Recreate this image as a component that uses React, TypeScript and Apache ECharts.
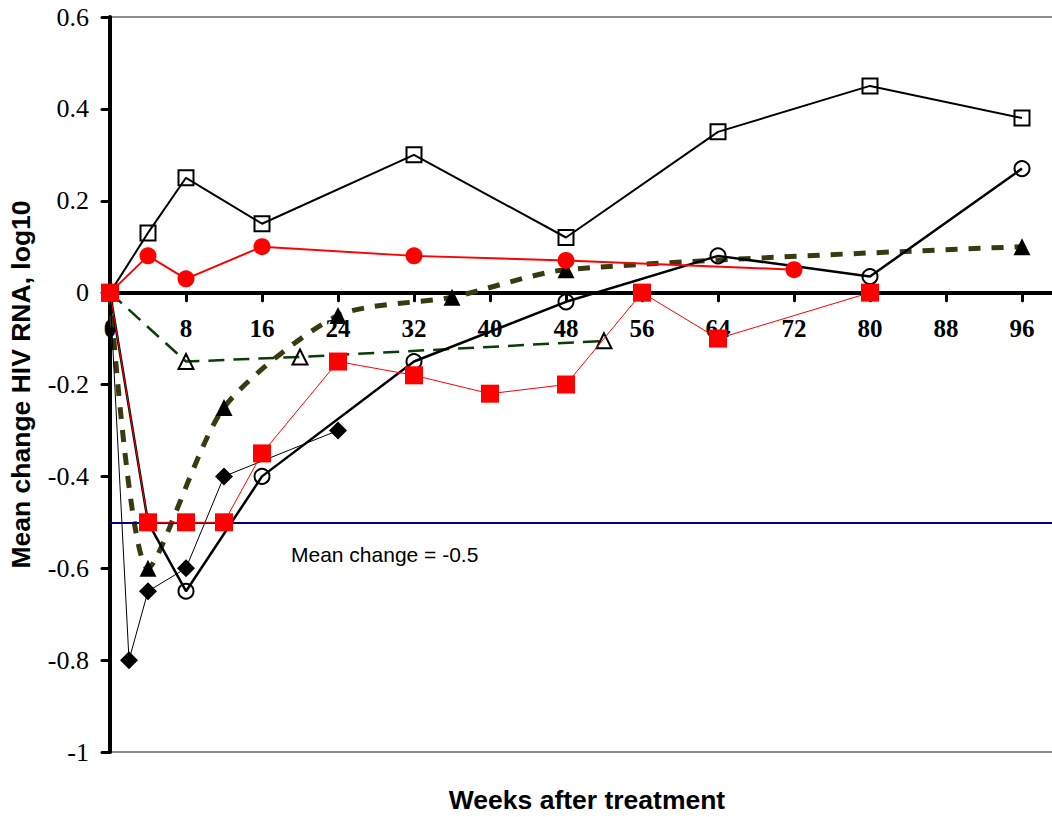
import React, { useEffect, useRef } from "react";
import * as echarts from "echarts";

// Weeks after treatment / mean change values per group
const sqOpenWeeks = [0, 4, 8, 16, 32, 48, 64, 80, 96];
const sqOpenVals = [0, 0.13, 0.25, 0.15, 0.3, 0.12, 0.35, 0.45, 0.38];

const redCircWeeks = [0, 4, 8, 16, 32, 48, 72];
const redCircVals = [0, 0.08, 0.03, 0.1, 0.08, 0.07, 0.05];

const circOpenWeeks = [0, 4, 8, 16, 32, 48, 64, 80, 96];
const circOpenVals = [0, -0.5, -0.65, -0.4, -0.15, -0.02, 0.08, 0.035, 0.27];

const redSqWeeks = [0, 4, 8, 12, 16, 24, 32, 40, 48, 56, 64, 80];
const redSqVals = [0, -0.5, -0.5, -0.5, -0.35, -0.15, -0.18, -0.22, -0.2, 0, -0.1, 0];

const diamondWeeks = [0, 2, 4, 8, 12, 24];
const diamondVals = [0, -0.8, -0.65, -0.6, -0.4, -0.3];

const triFillWeeks = [0, 4, 12, 24, 36, 48, 96];
const triFillVals = [0, -0.6, -0.25, -0.05, -0.01, 0.05, 0.1];

const triOpenWeeks = [0, 8, 20, 52];
const triOpenVals = [0, -0.15, -0.14, -0.105];

const xTicks = [0, 8, 16, 24, 32, 40, 48, 56, 64, 72, 80, 88, 96];
const yMin = -1;
const yMax = 0.6;
const thresholdValue = -0.5;
const thresholdLabel = "Mean change = -0.5";
const yTitle = "Mean change HIV RNA, log10";
const xTitle = "Weeks after treatment";

const pairs = (xs: number[], ys: number[]) => xs.map((x, i) => [x, ys[i]]);

export default function App() {
  const ref = useRef<HTMLDivElement>(null);
  useEffect(() => {
    if (!ref.current) return;
    const chart = echarts.init(ref.current, null, { renderer: "svg" });
    const serif = "Liberation Serif";
    const sans = "Liberation Sans";
    const hollow = "rgba(0,0,0,0)";
    const gridHeight = 735;
    // move the x axis from the bottom edge up to the y = 0 level
    const zeroOffset = -((0 - yMin) / (yMax - yMin)) * gridHeight;
    chart.setOption({
      animation: false,
      backgroundColor: "#fff",
      grid: {
        left: 110,
        top: 17,
        width: 950,
        height: gridHeight,
        show: true,
        borderColor: "#8c8c8c",
        borderWidth: 2,
        containLabel: false,
        outerBoundsMode: "none",
      },
      xAxis: {
        type: "value",
        min: 0,
        max: 100,
        interval: 8,
        position: "bottom",
        offset: zeroOffset,
        axisLine: { onZero: false, lineStyle: { color: "#000", width: 4 } },
        axisTick: {
          show: true,
          length: 8,
          customValues: xTicks,
          lineStyle: { color: "#000", width: 3, cap: "round" },
        },
        axisLabel: {
          customValues: xTicks,
          margin: 23,
          fontFamily: serif,
          fontWeight: "bold",
          fontSize: 25,
          color: "#000",
        },
        splitLine: { show: false },
      },
      yAxis: {
        type: "value",
        min: yMin,
        max: yMax,
        interval: 0.2,
        name: yTitle,
        nameLocation: "middle",
        nameGap: 76,
        nameTextStyle: { fontFamily: sans, fontWeight: "bold", fontSize: 26.5, color: "#000" },
        axisLine: { show: true, onZero: false, lineStyle: { color: "#000", width: 4 } },
        axisTick: { show: true, length: 8, lineStyle: { color: "#000", width: 3, cap: "round" } },
        axisLabel: {
          margin: 21,
          fontFamily: serif,
          fontSize: 26,
          color: "#000",
        },
        splitLine: { show: false },
      },
      graphic: [
        {
          type: "text",
          x: 291,
          y: 554,
          style: {
            text: thresholdLabel,
            font: `21px "${sans}"`,
            fill: "#000",
            textVerticalAlign: "middle",
          },
        },
        {
          type: "text",
          x: 587,
          y: 800,
          style: {
            text: xTitle,
            font: `bold 26.5px "${sans}"`,
            fill: "#000",
            textAlign: "center",
            textVerticalAlign: "middle",
          },
        },
      ],
      series: [
        {
          type: "line",
          name: "open triangles",
          data: pairs(triOpenWeeks, triOpenVals),
          symbol: "triangle",
          symbolSize: 15,
          showAllSymbol: true,
          lineStyle: { color: "#0b3d0b", width: 2.5, type: [16, 9] },
          itemStyle: { color: hollow, borderColor: "#000", borderWidth: 2 },
          z: 2,
          markLine: {
            silent: true,
            symbol: "none",
            label: { show: false },
            lineStyle: { color: "#000080", width: 2, type: "solid" },
            data: [{ yAxis: thresholdValue }],
          },
        },
        {
          type: "line",
          name: "filled triangles",
          data: pairs(triFillWeeks, triFillVals),
          smooth: 0.25,
          symbol: "triangle",
          symbolSize: 17,
          showAllSymbol: true,
          lineStyle: { color: "#3a3a10", width: 5, type: [12, 11] },
          itemStyle: { color: "#000" },
          z: 3,
        },
        {
          type: "line",
          name: "diamonds",
          data: pairs(diamondWeeks, diamondVals),
          symbol: "diamond",
          symbolSize: 18,
          showAllSymbol: true,
          lineStyle: { color: "#000", width: 1 },
          itemStyle: { color: "#000" },
          z: 4,
        },
        {
          type: "line",
          name: "open circles",
          data: pairs(circOpenWeeks, circOpenVals),
          symbol: "circle",
          symbolSize: 15,
          showAllSymbol: true,
          lineStyle: { color: "#000", width: 2.5 },
          itemStyle: { color: hollow, borderColor: "#000", borderWidth: 2 },
          z: 5,
        },
        {
          type: "line",
          name: "open squares",
          data: pairs(sqOpenWeeks, sqOpenVals),
          symbol: "rect",
          symbolSize: 15,
          showAllSymbol: true,
          lineStyle: { color: "#000", width: 2 },
          itemStyle: { color: hollow, borderColor: "#000", borderWidth: 2 },
          z: 6,
        },
        {
          type: "line",
          name: "red circles",
          data: pairs(redCircWeeks, redCircVals),
          symbol: "circle",
          symbolSize: 17,
          showAllSymbol: true,
          lineStyle: { color: "#ff0000", width: 2 },
          itemStyle: { color: "#ff0000" },
          z: 7,
        },
        {
          type: "line",
          name: "red squares",
          data: pairs(redSqWeeks, redSqVals),
          symbol: "rect",
          symbolSize: 18,
          showAllSymbol: true,
          lineStyle: { color: "#ff0000", width: 1 },
          itemStyle: { color: "#ff0000" },
          z: 8,
        },
      ],
    });
    return () => chart.dispose();
  }, []);
  return (
    <div
      ref={ref}
      style={{ position: "fixed", left: 0, top: 0, width: 1052, height: 817, background: "#fff" }}
    />
  );
}
